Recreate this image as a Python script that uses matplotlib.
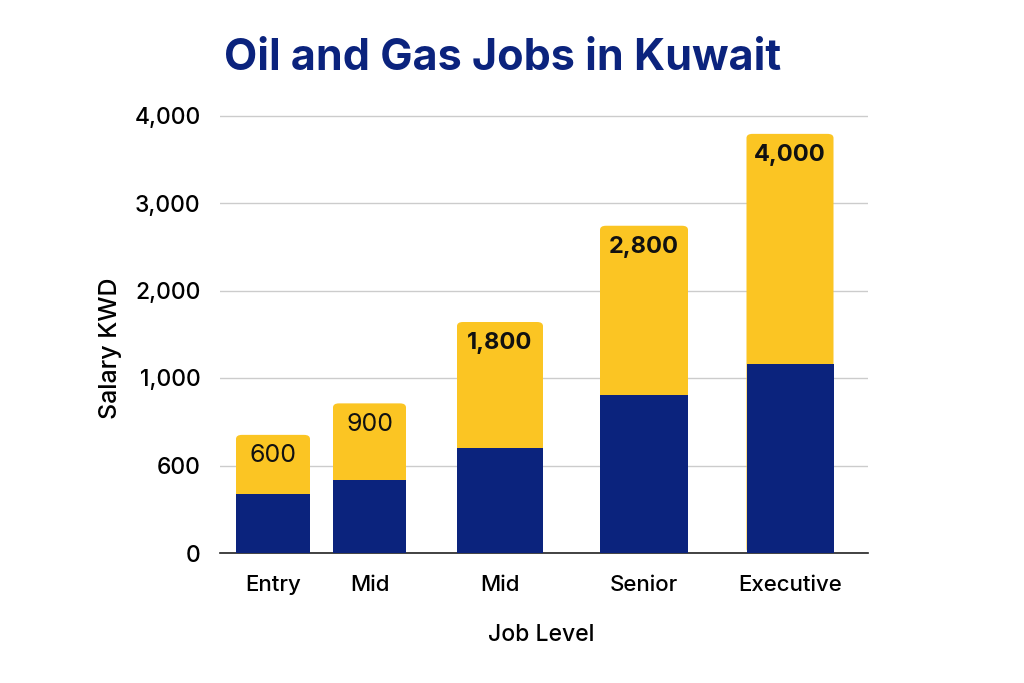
import matplotlib
matplotlib.use("Agg")
import matplotlib.pyplot as plt
from matplotlib.patches import FancyBboxPatch

plt.rcParams['font.family'] = ['Inter', 'DejaVu Sans']

# data (heights, in grid steps; the axis labels are uneven)
levels = ["Entry", "Mid", "Mid", "Senior", "Executive"]
value_labels = ["600", "900", "1,800", "2,800", "4,000"]
base_height = [0.67, 0.83, 1.20, 1.81, 2.16]
total_height = [1.35, 1.71, 2.64, 3.74, 4.79]
ytick_labels = ["0", "600", "1,000", "2,000", "3,000", "4,000"]

# layout
xpos = [0.53, 1.495, 2.80, 4.24, 5.70]
widths = [0.74, 0.73, 0.86, 0.88, 0.87]
navy = "#0b237d"
gold = "#fbc523"

fig = plt.figure(figsize=(10.24, 6.83), dpi=100)
ax = fig.add_axes([220/1024, 130/683, 648/1024, (5.05*87.5)/683])

# yellow bar (whole height, rounded top), navy part drawn over its lower end
for x, w, t in zip(xpos, widths, total_height):
    p = FancyBboxPatch((x - w/2, 0), w, t, boxstyle="round,pad=0,rounding_size=0.06",
                       mutation_aspect=0.78, facecolor=gold, edgecolor="none",
                       linewidth=0, zorder=2)
    ax.add_patch(p)
ax.bar(xpos, base_height, width=widths, color=navy, linewidth=0, zorder=3)

for x, t, lab in zip(xpos, total_height, value_labels):
    if len(lab) > 3:
        ax.text(x, t - 0.24, lab, ha="center", va="center", fontsize=17,
                fontweight="bold", color="#111111", zorder=4)
    else:
        ax.text(x, t - 0.24, lab, ha="center", va="center", fontsize=18,
                color="#111111", zorder=4)

ax.set_xlim(0, 6.48)
ax.set_ylim(0, 5.05)
ax.set_yticks(range(6))
ax.set_yticklabels(ytick_labels, fontsize=16.5, fontweight=500)
ax.set_xticks(xpos)
ax.set_xticklabels(levels, fontsize=16, fontweight=500)
ax.tick_params(axis="y", length=0, pad=14)
ax.tick_params(axis="x", length=0, pad=16)
ax.grid(axis="y", color="#cccccc", linewidth=1, zorder=0)
ax.set_axisbelow(True)
for s in ["top", "right", "left"]:
    ax.spines[s].set_visible(False)
ax.spines["bottom"].set_color("#222222")
ax.spines["bottom"].set_linewidth(1.2)

ax.set_ylabel("Salary KWD", fontsize=18, fontweight=500)
ax.yaxis.set_label_coords(-98/648, (553 - 348)/(5.05*87.5), transform=ax.transAxes)
ax.set_xlabel("Job Level", fontsize=16.5, fontweight=500)
ax.xaxis.set_label_coords((541 - 220)/648, -(624 - 553)/(5.05*87.5), transform=ax.transAxes)

fig.text(503/1024, 1 - 58/683, "Oil and Gas Jobs in Kuwait", ha="center", va="center",
         fontsize=31, fontweight="bold", color="#0b237d")

fig.savefig("out.png", dpi=100, facecolor="white")
